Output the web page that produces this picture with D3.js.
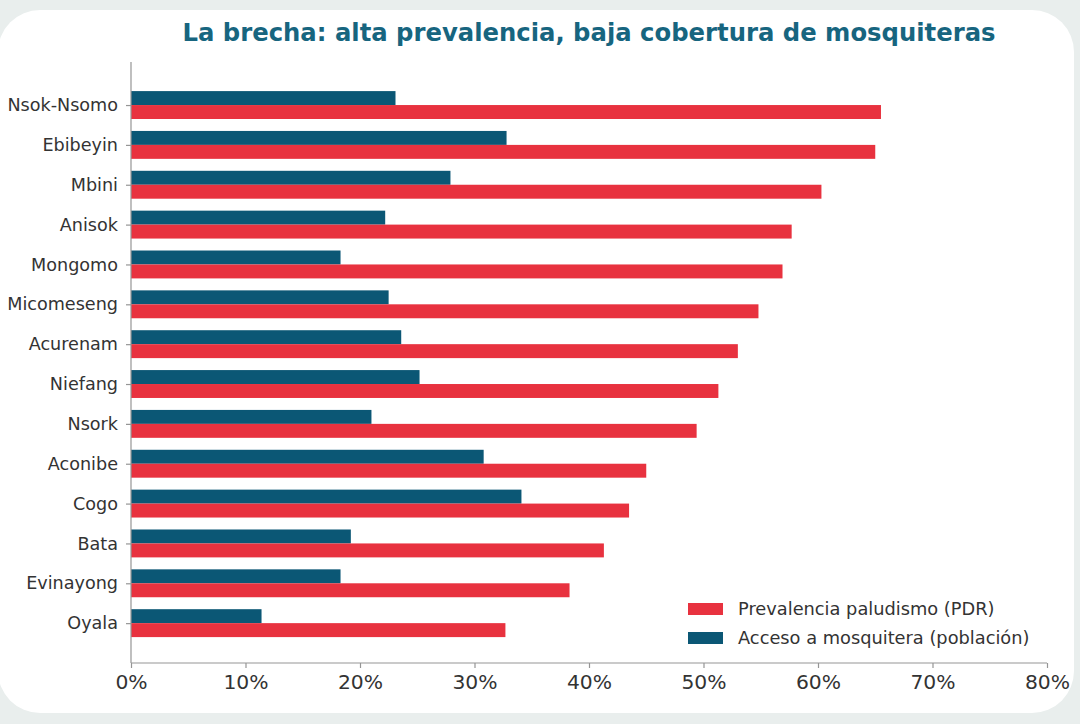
<!DOCTYPE html>
<html>
  <head>
    <meta charset="utf-8">
    <title>La brecha: alta prevalencia, baja cobertura de mosquiteras</title>
    <script src="https://d3js.org/d3.v7.min.js"></script>
    <style>
      html, body {
        margin: 0;
        padding: 0;
        background: #e9eeed;
      }
      svg {
        display: block;
        font-family: "DejaVu Sans", sans-serif;
      }
      .axis path, .axis line {
        stroke: #959595;
        stroke-width: 1.2;
      }
      .axis text {
        fill: #333;
      }
    </style>
  </head>
  <body>
    <svg width="1080" height="724"></svg>
    <script>
      // values
      var regions = ["Nsok-Nsomo", "Ebibeyin", "Mbini", "Anisok", "Mongomo", "Micomeseng",
                     "Acurenam", "Niefang", "Nsork", "Aconibe", "Cogo", "Bata", "Evinayong", "Oyala"];
      var prevalence = [65.5, 65.0, 60.3, 57.7, 56.9, 54.8, 53.0, 51.3, 49.4, 45.0, 43.5, 41.3, 38.3, 32.7];
      var access = [23.1, 32.8, 27.9, 22.2, 18.3, 22.5, 23.6, 25.2, 21.0, 30.8, 34.1, 19.2, 18.3, 11.4];
      var xTicks = [0, 10, 20, 30, 40, 50, 60, 70, 80];
      var seriesNames = ["Prevalencia paludismo (PDR)", "Acceso a mosquitera (población)"];
      var seriesColors = ["#e8323f", "#0b5775"];

      var margin = {top: 62, right: 33, bottom: 61, left: 131},
          width = 1080 - margin.left - margin.right,
          height = 724 - margin.top - margin.bottom;

      var svg = d3.select("svg");

      // card behind the chart
      svg.append("rect")
          .attr("x", -2)
          .attr("y", 10)
          .attr("width", 1076)
          .attr("height", 703)
          .attr("rx", 42)
          .attr("fill", "#ffffff");

      svg.append("text")
          .attr("x", 589)
          .attr("y", 41)
          .attr("text-anchor", "middle")
          .attr("font-size", 24.3)
          .attr("font-weight", "bold")
          .attr("fill", "#17657f")
          .text("La brecha: alta prevalencia, baja cobertura de mosquiteras");

      var g = svg.append("g")
          .attr("transform", "translate(" + margin.left + "," + margin.top + ")");

      var x = d3.scaleLinear()
          .domain([0, 80])
          .range([0, width]);

      var y = d3.scaleLinear()
          .domain([-1.08, regions.length])
          .range([0, height]);

      var barH = 0.35;

      g.selectAll(".bar-access")
          .data(access)
          .enter().append("rect")
          .attr("class", "bar-access")
          .attr("x", x(0))
          .attr("y", function(d, i) { return y(i - barH); })
          .attr("width", function(d) { return x(d) - x(0); })
          .attr("height", function(d, i) { return y(i) - y(i - barH); })
          .attr("fill", seriesColors[1]);

      g.selectAll(".bar-prev")
          .data(prevalence)
          .enter().append("rect")
          .attr("class", "bar-prev")
          .attr("x", x(0))
          .attr("y", function(d, i) { return y(i); })
          .attr("width", function(d) { return x(d) - x(0); })
          .attr("height", function(d, i) { return y(i + barH) - y(i); })
          .attr("fill", seriesColors[0]);

      // axes (left and bottom spines only)
      var xAxis = g.append("g")
          .attr("class", "axis")
          .attr("transform", "translate(0," + height + ")")
          .call(d3.axisBottom(x)
              .tickValues(xTicks)
              .tickSize(5)
              .tickPadding(7)
              .tickFormat(function(d) { return d + "%"; }));
      xAxis.selectAll("text")
          .attr("font-size", 20.3)
          .attr("font-family", "DejaVu Sans");

      var yAxis = g.append("g")
          .attr("class", "axis")
          .call(d3.axisLeft(y)
              .tickValues(d3.range(regions.length))
              .tickSize(5)
              .tickPadding(8)
              .tickFormat(function(i) { return regions[i]; }));
      yAxis.selectAll("text")
          .attr("font-size", 17.6)
          .attr("font-family", "DejaVu Sans");
      yAxis.select(".domain").attr("d", "M0,0V" + height);
      xAxis.select(".domain").attr("d", "M0,0H" + width);

      // legend
      var legend = g.append("g")
          .attr("transform", "translate(" + (688 - margin.left) + "," + (603 - margin.top) + ")");

      var items = legend.selectAll(".item")
          .data(seriesNames)
          .enter().append("g")
          .attr("transform", function(d, i) { return "translate(0," + (i * 29) + ")"; });

      items.append("rect")
          .attr("width", 35)
          .attr("height", 12)
          .attr("fill", function(d, i) { return seriesColors[i]; });

      items.append("text")
          .attr("x", 50)
          .attr("y", 6)
          .attr("dy", "0.35em")
          .attr("font-size", 17.8)
          .attr("fill", "#333")
          .text(function(d) { return d; });
    </script>
  </body>
</html>
